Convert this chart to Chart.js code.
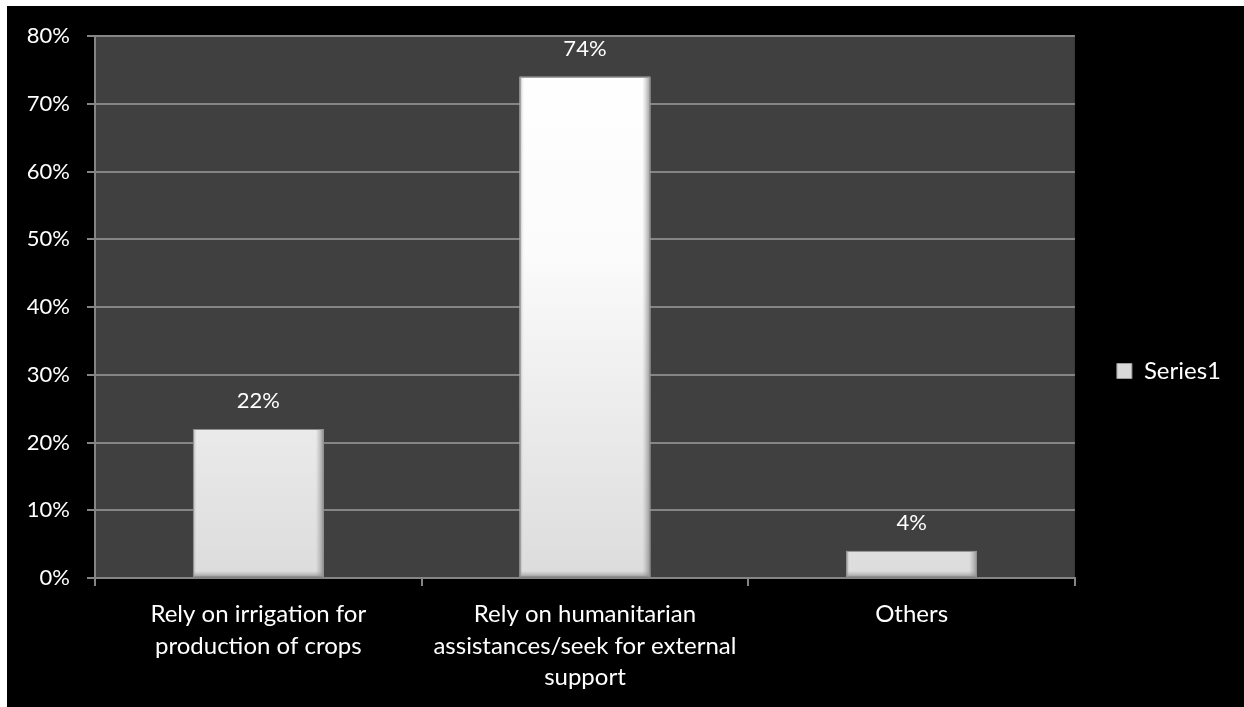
<!DOCTYPE html>
<html>
<head>
<meta charset="utf-8">
<script src="https://cdn.jsdelivr.net/npm/chart.js@4.4.1/dist/chart.umd.min.js"></script>
<style>
  html, body { margin: 0; padding: 0; background: #ffffff; overflow: hidden; }
  #frame { position: absolute; left: 7px; top: 6px; width: 1237px; height: 701px; background: #000000; }
  canvas { display: block; }
</style>
</head>
<body>
<div id="frame"><canvas id="chart" width="1237" height="701"></canvas></div>
<script>
// Categories (multi-line labels), series values (percent) and axis ticks
const categories = [
  ["Rely on irrigation for", "production of crops"],
  ["Rely on humanitarian", "assistances/seek for external", "support"],
  ["Others"]
];
const seriesName = "Series1";
const seriesValues = [22, 74, 4];
const yTickValues = [0, 10, 20, 30, 40, 50, 60, 70, 80];

const FONT = "Lato";
const TEXT = "#ffffff";
const LINE = "#858585";

// Dark plot area behind the bars
const plotBackground = {
  id: "plotBackground",
  beforeDraw(chart) {
    const { ctx, chartArea: a } = chart;
    ctx.save();
    ctx.fillStyle = "#404040";
    ctx.fillRect(a.left, a.top, a.right - a.left, a.bottom - a.top);
    ctx.restore();
  }
};

// Bevelled look on each bar, using the bar geometry computed by Chart.js
const barBevel = {
  id: "barBevel",
  afterDatasetsDraw(chart) {
    const ctx = chart.ctx;
    chart.getDatasetMeta(0).data.forEach(bar => {
      const p = bar.getProps(["x", "y", "base", "width"], true);
      const l = p.x - p.width / 2, r = p.x + p.width / 2, t = p.y, b = p.base;
      ctx.save();
      // left edge
      let g = ctx.createLinearGradient(l, 0, l + 5, 0);
      g.addColorStop(0, "rgba(150,150,150,0.8)");
      g.addColorStop(1, "rgba(255,255,255,0)");
      ctx.fillStyle = g; ctx.fillRect(l, t, 5, b - t);
      // right edge
      g = ctx.createLinearGradient(r - 8, 0, r, 0);
      g.addColorStop(0, "rgba(160,160,160,0)");
      g.addColorStop(1, "rgba(130,130,130,0.8)");
      ctx.fillStyle = g; ctx.fillRect(r - 8, t, 8, b - t);
      // bottom edge
      const bh = Math.min(6, b - t);
      g = ctx.createLinearGradient(0, b - bh, 0, b);
      g.addColorStop(0, "rgba(160,160,160,0)");
      g.addColorStop(1, "rgba(140,140,140,0.8)");
      ctx.fillStyle = g; ctx.fillRect(l, b - bh, r - l, bh);
      // outline
      ctx.strokeStyle = "#8f8f8f";
      ctx.lineWidth = 1;
      ctx.strokeRect(l + 0.5, t + 0.5, r - l - 1, b - t - 1);
      ctx.restore();
    });
  }
};

// Value labels above the bars
const valueLabels = {
  id: "valueLabels",
  afterDatasetsDraw(chart) {
    const ctx = chart.ctx;
    const ds = chart.data.datasets[0];
    ctx.save();
    ctx.font = "22px " + FONT;
    ctx.fillStyle = TEXT;
    ctx.textAlign = "center";
    ctx.textBaseline = "alphabetic";
    chart.getDatasetMeta(0).data.forEach((bar, i) => {
      ctx.fillText(ds.data[i] + "%", bar.x, bar.y - 21);
    });
    ctx.restore();
  }
};

function barFill(context) {
  const chart = context.chart;
  const a = chart.chartArea;
  if (!a) return "#f4f4f4";
  const el = context.element;
  const top = el && isFinite(el.y) ? el.y : a.top;
  const base = el && isFinite(el.base) ? el.base : a.bottom;
  const g = chart.ctx.createLinearGradient(0, top, 0, base);
  g.addColorStop(0, "#ffffff");
  g.addColorStop(0.4, "#fbfbfb");
  g.addColorStop(1, "#dcdcdc");
  return g;
}

new Chart(document.getElementById("chart"), {
  type: "bar",
  data: {
    labels: categories,
    datasets: [{
      label: seriesName,
      data: seriesValues,
      backgroundColor: barFill,
      borderWidth: 0,
      barPercentage: 0.4,
      categoryPercentage: 1.0
    }]
  },
  options: {
    responsive: false,
    animation: false,
    devicePixelRatio: 1,
    layout: { padding: { top: 29, right: 13, bottom: 0, left: 0 } },
    plugins: {
      tooltip: { enabled: false },
      legend: {
        position: "right",
        labels: {
          padding: 42,
          boxWidth: 15,
          boxHeight: 15,
          color: TEXT,
          font: { family: FONT, size: 24 },
          generateLabels(chart) {
            return chart.data.datasets.map((d, i) => ({
              text: d.label,
              fillStyle: "#d9d9d9",
              strokeStyle: "#9a9a9a",
              lineWidth: 1,
              fontColor: TEXT,
              datasetIndex: i
            }));
          }
        }
      }
    },
    scales: {
      x: {
        grid: { drawOnChartArea: false, color: LINE, lineWidth: 2, tickLength: 8, offset: true },
        border: { color: LINE, width: 2 },
        ticks: {
          color: TEXT,
          font: { family: FONT, size: 24, lineHeight: 1.3 },
          padding: 13,
          maxRotation: 0,
          autoSkip: false
        },
        afterFit(scale) { scale.height = 129; }
      },
      y: {
        min: yTickValues[0],
        max: yTickValues[yTickValues.length - 1],
        afterBuildTicks(scale) { scale.ticks = yTickValues.map(v => ({ value: v })); },
        grid: { color: LINE, lineWidth: 2, tickLength: 8 },
        border: { color: LINE, width: 2 },
        ticks: {
          color: TEXT,
          font: { family: FONT, size: 22 },
          padding: 17,
          callback: v => v + "%"
        },
        afterFit(scale) { scale.width = 88; }
      }
    }
  },
  plugins: [plotBackground, barBevel, valueLabels]
});
</script>
</body>
</html>
